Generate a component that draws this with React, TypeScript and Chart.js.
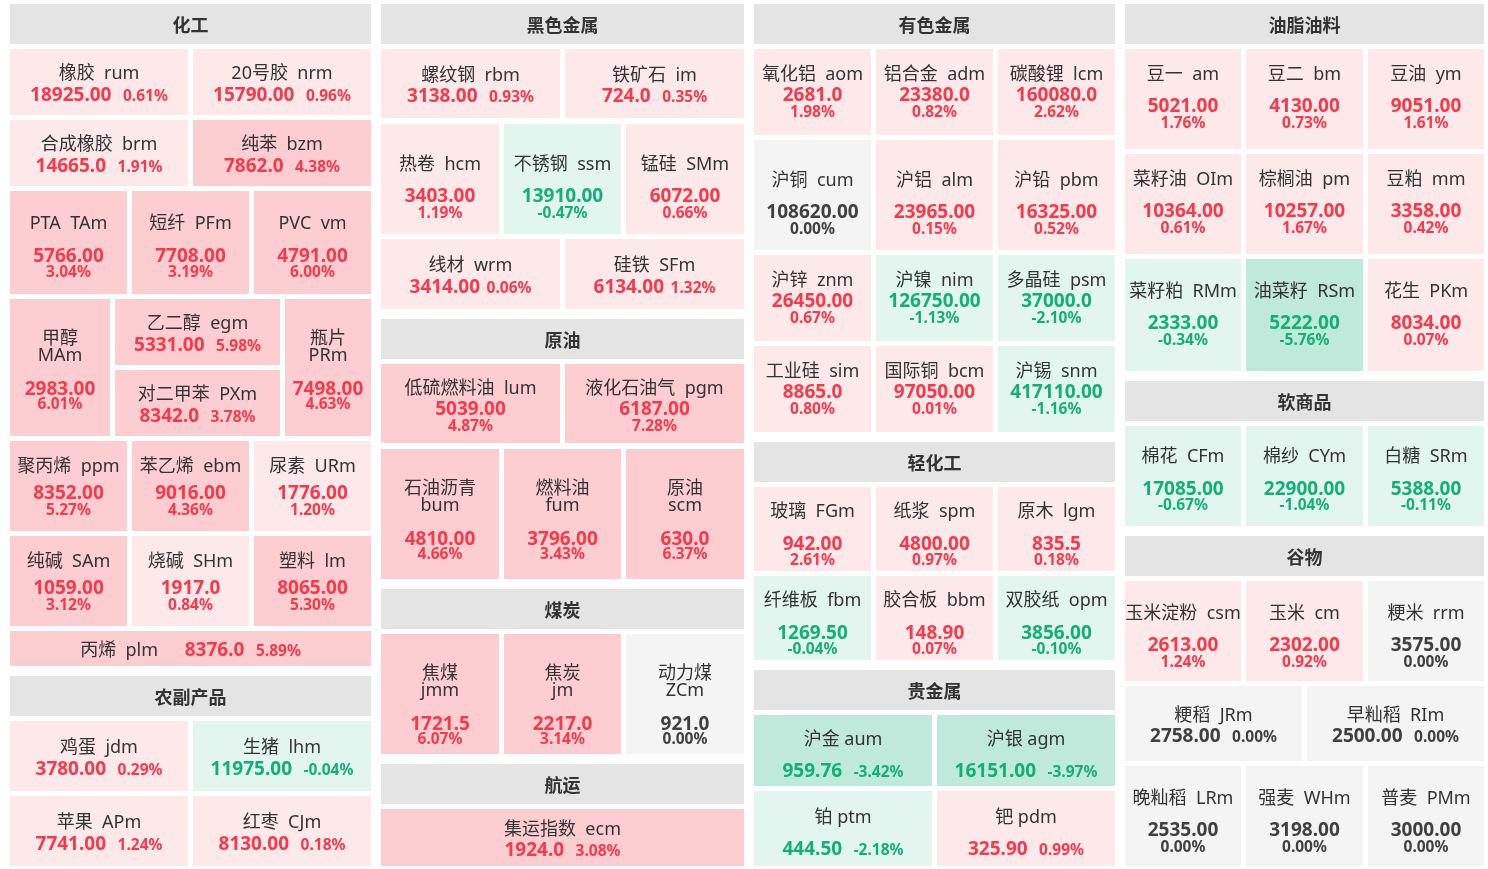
import React, { useEffect, useRef } from 'react';
import { Chart, registerables } from 'chart.js';
Chart.register(...registerables);

// ================= DATA =================
const sectionTitles = ['化工', '农副产品', '黑色金属', '原油', '煤炭', '航运', '有色金属', '轻化工', '贵金属', '油脂油料', '软商品', '谷物'];

const chemLabels = ['橡胶  rum', '20号胶  nrm', '合成橡胶  brm', '纯苯  bzm', 'PTA  TAm', '短纤  PFm', 'PVC  vm', '甲醇  MAm', '乙二醇  egm', '对二甲苯  PXm', '瓶片  PRm', '聚丙烯  ppm', '苯乙烯  ebm', '尿素  URm', '纯碱  SAm', '烧碱  SHm', '塑料  lm', '丙烯  plm'];
const chemPrices = ['18925.00', '15790.00', '14665.0', '7862.0', '5766.00', '7708.00', '4791.00', '2983.00', '5331.00', '8342.0', '7498.00', '8352.00', '9016.00', '1776.00', '1059.00', '1917.0', '8065.00', '8376.0'];
const chemChanges = [0.61, 0.96, 1.91, 4.38, 3.04, 3.19, 6.0, 6.01, 5.98, 3.78, 4.63, 5.27, 4.36, 1.2, 3.12, 0.84, 5.3, 5.89];

const agriLabels = ['鸡蛋  jdm', '生猪  lhm', '苹果  APm', '红枣  CJm'];
const agriPrices = ['3780.00', '11975.00', '7741.00', '8130.00'];
const agriChanges = [0.29, -0.04, 1.24, 0.18];

const ferrousLabels = ['螺纹钢  rbm', '铁矿石  im', '热卷  hcm', '不锈钢  ssm', '锰硅  SMm', '线材  wrm', '硅铁  SFm'];
const ferrousPrices = ['3138.00', '724.0', '3403.00', '13910.00', '6072.00', '3414.00', '6134.00'];
const ferrousChanges = [0.93, 0.35, 1.19, -0.47, 0.66, 0.06, 1.32];

const crudeLabels = ['低硫燃料油  lum', '液化石油气  pgm', '石油沥青  bum', '燃料油  fum', '原油  scm'];
const crudePrices = ['5039.00', '6187.00', '4810.00', '3796.00', '630.0'];
const crudeChanges = [4.87, 7.28, 4.66, 3.43, 6.37];

const coalLabels = ['焦煤  jmm', '焦炭  jm', '动力煤  ZCm'];
const coalPrices = ['1721.5', '2217.0', '921.0'];
const coalChanges = [6.07, 3.14, 0.0];

const shippingLabels = ['集运指数  ecm'];
const shippingPrices = ['1924.0'];
const shippingChanges = [3.08];

const nonferrousLabels = ['氧化铝  aom', '铝合金  adm', '碳酸锂  lcm', '沪铜  cum', '沪铝  alm', '沪铅  pbm', '沪锌  znm', '沪镍  nim', '多晶硅  psm', '工业硅  sim', '国际铜  bcm', '沪锡  snm'];
const nonferrousPrices = ['2681.0', '23380.0', '160080.0', '108620.00', '23965.00', '16325.00', '26450.00', '126750.00', '37000.0', '8865.0', '97050.00', '417110.00'];
const nonferrousChanges = [1.98, 0.82, 2.62, 0.0, 0.15, 0.52, 0.67, -1.13, -2.1, 0.8, 0.01, -1.16];

const lightChemLabels = ['玻璃  FGm', '纸浆  spm', '原木  lgm', '纤维板  fbm', '胶合板  bbm', '双胶纸  opm'];
const lightChemPrices = ['942.00', '4800.00', '835.5', '1269.50', '148.90', '3856.00'];
const lightChemChanges = [2.61, 0.97, 0.18, -0.04, 0.07, -0.1];

const preciousLabels = ['沪金 aum', '沪银 agm', '铂 ptm', '钯 pdm'];
const preciousPrices = ['959.76', '16151.00', '444.50', '325.90'];
const preciousChanges = [-3.42, -3.97, -2.18, 0.99];

const oilseedLabels = ['豆一  am', '豆二  bm', '豆油  ym', '菜籽油  OIm', '棕榈油  pm', '豆粕  mm', '菜籽粕  RMm', '油菜籽  RSm', '花生  PKm'];
const oilseedPrices = ['5021.00', '4130.00', '9051.00', '10364.00', '10257.00', '3358.00', '2333.00', '5222.00', '8034.00'];
const oilseedChanges = [1.76, 0.73, 1.61, 0.61, 1.67, 0.42, -0.34, -5.76, 0.07];

const softLabels = ['棉花  CFm', '棉纱  CYm', '白糖  SRm'];
const softPrices = ['17085.00', '22900.00', '5388.00'];
const softChanges = [-0.67, -1.04, -0.11];

const grainLabels = ['玉米淀粉  csm', '玉米  cm', '粳米  rrm', '粳稻  JRm', '早籼稻  RIm', '晚籼稻  LRm', '强麦  WHm', '普麦  PMm'];
const grainPrices = ['2613.00', '2302.00', '3575.00', '2758.00', '2500.00', '2535.00', '3198.00', '3000.00'];
const grainChanges = [1.24, 0.92, 0.0, 0.0, 0.0, 0.0, 0.0, 0.0];

const sections = [
  { labels: chemLabels, prices: chemPrices, changes: chemChanges },
  { labels: agriLabels, prices: agriPrices, changes: agriChanges },
  { labels: ferrousLabels, prices: ferrousPrices, changes: ferrousChanges },
  { labels: crudeLabels, prices: crudePrices, changes: crudeChanges },
  { labels: coalLabels, prices: coalPrices, changes: coalChanges },
  { labels: shippingLabels, prices: shippingPrices, changes: shippingChanges },
  { labels: nonferrousLabels, prices: nonferrousPrices, changes: nonferrousChanges },
  { labels: lightChemLabels, prices: lightChemPrices, changes: lightChemChanges },
  { labels: preciousLabels, prices: preciousPrices, changes: preciousChanges },
  { labels: oilseedLabels, prices: oilseedPrices, changes: oilseedChanges },
  { labels: softLabels, prices: softPrices, changes: softChanges },
  { labels: grainLabels, prices: grainPrices, changes: grainChanges },
];

// ================= LAYOUT (grid structure) =================
const W = 1488;
const H = 869;
const COLS = [[10, 371], [381, 744], [754, 1115], [1125, 1484]];
const TOP = 4;
const BOTTOM = 866;
const HEADER_H = 40;
const GAP = 5;
const SECTION_GAP = 10;

type Row = { n: number; h: number; m: string | string[]; w?: number[]; dy?: number; g?: number; pg?: number };
type Block = { sec: number; rows: Row[] };

const columnLayout: Block[][] = [
  [
    { sec: 0, rows: [
      { n: 2, h: 66, m: 'inline' },
      { n: 2, h: 66, m: 'inline' },
      { n: 3, h: 103, m: 'stackgap', dy: -1 },
      { n: 3, h: 137, m: ['wrap', 'split', 'wrap'], w: [100, 165, 86] },
      { n: 3, h: 90, m: 'stackgap', g: 27.5, dy: -2 },
      { n: 3, h: 90, m: 'stackgap', g: 27.5, dy: -2 },
      { n: 1, h: 35, m: 'line' },
    ] },
    { sec: 1, rows: [{ n: 2, h: 70, m: 'inline' }, { n: 2, h: 0, m: 'inline' }] },
  ],
  [
    { sec: 2, rows: [{ n: 2, h: 69.5, m: 'inline' }, { n: 3, h: 110, m: 'stackgap', dy: 3 }, { n: 2, h: 70, m: 'inline', pg: 6.5 }] },
    { sec: 3, rows: [{ n: 2, h: 80, m: 'stack', dy: 2.5 }, { n: 3, h: 130, m: 'wrap' }] },
    { sec: 4, rows: [{ n: 3, h: 120, m: 'wrap' }] },
    { sec: 5, rows: [{ n: 1, h: 0, m: 'inline' }] },
  ],
  [
    { sec: 6, rows: [{ n: 3, h: 86, m: 'stack' }, { n: 3, h: 110, m: 'stackgap', dy: 3 }, { n: 3, h: 86, m: 'stack' }, { n: 3, h: 86, m: 'stack' }] },
    { sec: 7, rows: [{ n: 3, h: 84, m: 'stackgap', dy: 0.5 }, { n: 3, h: 84, m: 'stackgap', dy: 0.5 }] },
    { sec: 8, rows: [{ n: 2, h: 71, m: 'inlinegap' }, { n: 2, h: 0, m: 'inlinegap' }] },
  ],
  [
    { sec: 9, rows: [{ n: 3, h: 100, m: 'stackgap', dy: -7 }, { n: 3, h: 100, m: 'stackgap', dy: -7 }, { n: 3, h: 112, m: 'stackgap', dy: -6 }] },
    { sec: 10, rows: [{ n: 3, h: 100, m: 'stackgap', dy: -1.5 }] },
    { sec: 11, rows: [{ n: 3, h: 100, m: 'stackgap' }, { n: 2, h: 75, m: 'inline' }, { n: 3, h: 0, m: 'stackgap' }] },
  ],
];

type Cell = { x0: number; y0: number; x1: number; y1: number; label: string; price: string; change: number; mode: string; dy: number; g: number; pg: number };
type Header = { x0: number; y0: number; x1: number; y1: number; title: string };

function buildLayout() {
  const cells: Cell[] = [];
  const headers: Header[] = [];
  columnLayout.forEach((blocks, ci) => {
    const [cx0, cx1] = COLS[ci];
    let y = TOP;
    blocks.forEach((blk, bi) => {
      if (bi > 0) y += SECTION_GAP - GAP;
      headers.push({ x0: cx0, y0: y, x1: cx1, y1: y + HEADER_H, title: sectionTitles[blk.sec] });
      y += HEADER_H + GAP;
      const sec = sections[blk.sec];
      let idx = 0;
      blk.rows.forEach((r) => {
        const h = r.h || BOTTOM - y;
        const weights = r.w || new Array(r.n).fill(1);
        const sumW = weights.reduce((a, b) => a + b, 0);
        const avail = cx1 - cx0 - GAP * (r.n - 1);
        let x = cx0;
        for (let j = 0; j < r.n; j++) {
          const cw = (avail * weights[j]) / sumW;
          const mode = Array.isArray(r.m) ? r.m[j] : r.m;
          const common = { dy: r.dy || 0, g: r.g || 32.5, pg: r.pg || 11.5 };
          if (mode === 'split') {
            const sh = (h - GAP) / 2;
            for (let k = 0; k < 2; k++) {
              const yy = y + k * (sh + GAP);
              cells.push({ x0: x, y0: yy, x1: x + cw, y1: yy + sh, label: sec.labels[idx], price: sec.prices[idx], change: sec.changes[idx], mode: 'inline', ...common });
              idx++;
            }
          } else {
            cells.push({ x0: x, y0: y, x1: x + cw, y1: y + h, label: sec.labels[idx], price: sec.prices[idx], change: sec.changes[idx], mode, ...common });
            idx++;
          }
          x += cw + GAP;
        }
        y += h + GAP;
      });
    });
  });
  return { cells, headers };
}

// ================= STYLE =================
const FAMILY = "'Noto Sans', 'Noto Sans CJK SC', sans-serif";
const NAME_FONT = `18px ${FAMILY}`;
const VALUE_FONT = `bold 19px ${FAMILY}`;
const PCT_FONT = `bold 15.5px ${FAMILY}`;
const HEADER_FONT = `bold 18px 'Noto Sans CJK SC', sans-serif`;

function bgColor(ch: number) {
  if (ch === 0) return '#f4f4f4';
  if (ch > 0) return ch >= 3 ? '#fccdd1' : '#fde8ea';
  return ch <= -3 ? '#bfeadb' : '#e2f5ee';
}
function fgColor(ch: number) {
  if (ch === 0) return '#404040';
  return ch > 0 ? '#f53a4c' : '#12b076';
}

const boardPlugin = {
  id: 'board',
  beforeDatasetsDraw(chart: any) {
    const { ctx } = chart;
    const sx = chart.scales.x;
    const sy = chart.scales.y;
    const px = (v: number) => sx.getPixelForValue(v);
    const py = (v: number) => sy.getPixelForValue(v);
    const { cells, headers } = chart.options.plugins.board;
    ctx.save();
    ctx.fillStyle = '#ffffff';
    ctx.fillRect(0, 0, chart.width, chart.height);

    headers.forEach((hd: Header) => {
      const x0 = Math.round(px(hd.x0)), x1 = Math.round(px(hd.x1));
      const y0 = Math.round(py(hd.y0)), y1 = Math.round(py(hd.y1));
      ctx.fillStyle = '#e4e4e4';
      ctx.fillRect(x0, y0, x1 - x0, y1 - y0);
      ctx.fillStyle = '#333333';
      ctx.font = HEADER_FONT;
      ctx.textAlign = 'center';
      ctx.textBaseline = 'alphabetic';
      ctx.fillText(hd.title, (x0 + x1) / 2, (y0 + y1) / 2 + 8);
    });

    const drawLine = (parts: { t: string; f: string; c: string }[], gaps: number[], cx: number, base: number) => {
      const widths = parts.map((p) => { ctx.font = p.f; return ctx.measureText(p.t).width; });
      const total = widths.reduce((a, b) => a + b, 0) + gaps.reduce((a, b) => a + b, 0);
      let x = cx - total / 2;
      ctx.textAlign = 'left';
      parts.forEach((p, i) => {
        ctx.font = p.f;
        ctx.fillStyle = p.c;
        ctx.fillText(p.t, x, base);
        x += widths[i] + (gaps[i] || 0);
      });
    };

    cells.forEach((c: Cell) => {
      const x0 = Math.round(px(c.x0)), x1 = Math.round(px(c.x1));
      const y0 = Math.round(py(c.y0)), y1 = Math.round(py(c.y1));
      ctx.fillStyle = bgColor(c.change);
      ctx.fillRect(x0, y0, x1 - x0, y1 - y0);
      const cx = (x0 + x1) / 2;
      const cy = (y0 + y1) / 2;
      const col = fgColor(c.change);
      const pct = c.change.toFixed(2) + '%';
      ctx.textBaseline = 'alphabetic';
      const name = (t: string, base: number) => {
        ctx.font = NAME_FONT; ctx.fillStyle = '#333333'; ctx.textAlign = 'center'; ctx.fillText(t, cx, base);
      };
      const val = (base: number) => {
        ctx.font = VALUE_FONT; ctx.fillStyle = col; ctx.textAlign = 'center'; ctx.fillText(c.price, cx, base);
      };
      const pc = (base: number) => {
        ctx.font = PCT_FONT; ctx.fillStyle = col; ctx.textAlign = 'center'; ctx.fillText(pct, cx, base);
      };
      const valPctLine = (base: number) => drawLine([{ t: c.price, f: VALUE_FONT, c: col }, { t: pct, f: PCT_FONT, c: col }], [c.pg], cx, base);

      if (c.mode === 'inline') {
        name(c.label, cy - 3);
        valPctLine(cy + 18.5);
      } else if (c.mode === 'inlinegap') {
        name(c.label, cy - 6);
        valPctLine(cy + 26);
      } else if (c.mode === 'stack') {
        name(c.label, cy - 12.5 + c.dy);
        val(cy + 9 + c.dy);
        pc(cy + 25.3 + c.dy);
      } else if (c.mode === 'stackgap') {
        const nb = cy - 12.5 + c.dy;
        name(c.label, nb);
        val(nb + c.g);
        pc(nb + c.g + 15.5);
      } else if (c.mode === 'wrap') {
        const parts = c.label.split(/\s+/);
        name(parts[0], y0 + 45);
        name(parts[1], y0 + 61.7);
        val(y0 + 95.5);
        pc(y0 + 109.7);
      } else if (c.mode === 'line') {
        drawLine([
          { t: c.label, f: NAME_FONT, c: '#333333' },
          { t: c.price, f: VALUE_FONT, c: col },
          { t: pct, f: PCT_FONT, c: col },
        ], [26.7, 11.5], cx, cy + 7.5);
      }
    });
    ctx.restore();
  },
};

export default function App() {
  const ref = useRef<HTMLCanvasElement | null>(null);
  useEffect(() => {
    if (!ref.current) return;
    const { cells, headers } = buildLayout();
    const chart = new Chart(ref.current, {
      type: 'scatter',
      data: {
        datasets: [
          {
            data: cells.map((c) => ({ x: (c.x0 + c.x1) / 2, y: (c.y0 + c.y1) / 2 })),
            pointRadius: 0,
            pointHoverRadius: 0,
          },
        ],
      },
      options: {
        responsive: false,
        animation: false,
        devicePixelRatio: 1,
        layout: { padding: 0 },
        events: [],
        scales: {
          x: { type: 'linear', min: 0, max: W, display: false },
          y: { type: 'linear', min: 0, max: H, reverse: true, display: false },
        },
        plugins: {
          legend: { display: false },
          tooltip: { enabled: false },
          // @ts-ignore
          board: { cells, headers },
        },
      },
      plugins: [boardPlugin],
    });
    return () => chart.destroy();
  }, []);
  return (
    <div style={{ position: 'fixed', left: 0, top: 0, width: W, height: H, background: '#fff' }}>
      <canvas ref={ref} width={W} height={H} style={{ display: 'block', width: W, height: H }} />
    </div>
  );
}
